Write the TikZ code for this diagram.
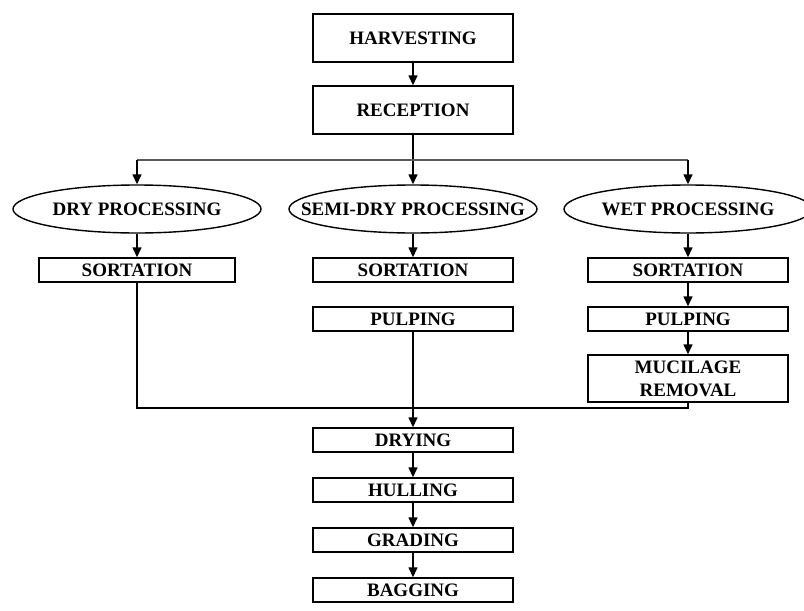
\documentclass[tikz,border=0pt]{standalone}
\usepackage{fontspec}
\setmainfont{Liberation Serif}
\usetikzlibrary{shapes.geometric,arrows.meta}
\tikzstyle{stage}=[rectangle,minimum width=100pt,minimum height=12pt,inner sep=0pt,
text centered,draw=black,line width=0.7pt,font=\fontsize{9.5}{11.5}\selectfont\bfseries]
\tikzstyle{bigstage}=[stage,minimum height=24pt]
\tikzstyle{method}=[ellipse,minimum width=124pt,minimum height=24pt,inner xsep=-13pt,inner ysep=0pt,
text centered,draw=black,line width=0.7pt,font=\fontsize{9.5}{11.5}\selectfont\bfseries]
\tikzstyle{arrow}=[line width=0.7pt,->,>={Triangle[length=5pt,width=4.5pt]}]
\tikzstyle{line}=[line width=0.7pt,draw=black]
\tikzstyle{branch}=[line width=0.7pt,draw=black!65]

\begin{document}
\begin{tikzpicture}[x=0.5pt,y=-0.5pt,node distance=25pt]
    \useasboundingbox (0,0) rectangle (804,611);
        \node (harv) [bigstage] at (413,38) {HARVESTING};
        \node (recep) [bigstage] at (413,110) {RECEPTION};
        \coordinate (split) at (413,160);
        \node (dry) [method] at (137,209) {DRY PROCESSING};
        \node (semi) [method] at (413,209) {SEMI-DRY PROCESSING};
        \node (wet) [method] at (688,209) {WET PROCESSING};
        \node (drysort) [stage,minimum width=98pt] at (137,270) {SORTATION};
        \node (semisort) [stage] at (413,270) {SORTATION};
        \node (wetsort) [stage] at (688,270) {SORTATION};
        \node (semipulp) [stage] at (413,319) {PULPING};
        \node (wetpulp) [stage,below of=wetsort,node distance=24.5pt] {PULPING};
        \node (mucil) [stage,minimum height=23.5pt,align=center] at (688,378.5) {MUCILAGE\\REMOVAL};
        \coordinate (merge) at (413,408);
        \node (drying) [stage] at (413,440) {DRYING};
        \node (hull) [stage,below of=drying] {HULLING};
        \node (grade) [stage,below of=hull] {GRADING};
        \node (bag) [stage,below of=grade] {BAGGING};

        \draw [arrow] (harv) -- (recep);
        \draw [arrow] (recep) -- (semi);
        \draw [branch] (dry |- split) -- (wet |- split);
        \draw [arrow] (dry |- split) -- (dry);
        \draw [arrow] (wet |- split) -- (wet);
        \draw [arrow] (dry) -- (drysort);
        \draw [arrow] (semi) -- (semisort);
        \draw [arrow] (wet) -- (wetsort);
        \draw [arrow] (wetsort) -- (wetpulp);
        \draw [arrow] (wetpulp) -- (mucil);
        \draw [line] (drysort) |- (merge) -| (mucil);
        \draw [arrow] (semipulp) -- (drying);
        \draw [arrow] (drying) -- (hull);
        \draw [arrow] (hull) -- (grade);
        \draw [arrow] (grade) -- (bag);
\end{tikzpicture}
\end{document}
